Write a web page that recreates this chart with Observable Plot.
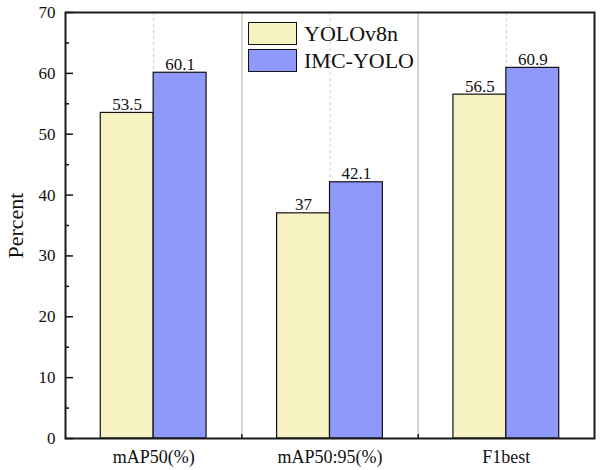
<!DOCTYPE html>
<html>
<head>
<meta charset="utf-8">
<script src="https://cdn.jsdelivr.net/npm/d3@7"></script>
<script src="https://cdn.jsdelivr.net/npm/@observablehq/plot@0.6"></script>
<style>
  html, body { margin: 0; padding: 0; background: #fff; }
  #wrap { position: relative; width: 600px; height: 470px; font-family: "Liberation Serif", "Times New Roman", serif; }
  #legend { position: absolute; left: 248px; top: 22px; font-size: 22px; color: #111; line-height: 23px; }
  #legend .row { display: flex; align-items: center; height: 23px; margin-bottom: 4px; }
  #legend .sw { width: 47px; height: 21px; border: 1px solid #111; margin-right: 7px; }
</style>
</head>
<body>
<div id="wrap"></div>
<script>
const categories = ["mAP50(%)", "mAP50:95(%)", "F1best"];
const seriesNames = ["YOLOv8n", "IMC-YOLO"];
const yolov8n = [53.5, 37, 56.5];
const imcYolo = [60.1, 42.1, 60.9];
const seriesColors = ["#F6F2C2", "#8F99FB"];
const majorTicks = [0, 10, 20, 30, 40, 50, 60, 70];
const minorTicks = [5, 15, 25, 35, 45, 55, 65];

const SERIF = "'Liberation Serif', 'Times New Roman', serif";
const W = 600, H = 470, ML = 65, MR = 6, MT = 12, MB = 32;
const plotW = W - ML - MR, plotH = H - MT - MB;
const barW = 0.3; // fraction of a group per bar

const rows = [];
categories.forEach((c, i) => {
  [yolov8n, imcYolo].forEach((arr, s) => {
    rows.push({cat: c, i, s, series: seriesNames[s], value: arr[i]});
  });
});
const centers = categories.map((c, i) => i + 0.5);
const dividers = d3.range(1, categories.length);

const chart = Plot.plot({
  width: W, height: H,
  marginLeft: ML, marginRight: MR, marginTop: MT, marginBottom: MB,
  style: {fontFamily: SERIF, background: "white", color: "#111"},
  x: {type: "linear", domain: [0, categories.length]},
  y: {domain: [0, 70]},
  color: {domain: seriesNames, range: seriesColors},
  marks: [
    Plot.ruleX(dividers, {x: d => d, stroke: "#c8c8c8", strokeWidth: 1.5}),
    Plot.ruleX(centers, {x: d => d, stroke: "#c8c8c8", strokeWidth: 1, strokeDasharray: "3,3"}),
    Plot.rectY(rows, {
      x1: d => d.i + 0.5 - (d.s === 0 ? barW : 0),
      x2: d => d.i + 0.5 + (d.s === 0 ? 0 : barW),
      y1: 0, y2: "value",
      fill: "series", stroke: "#111", strokeWidth: 1.2
    }),
    Plot.text(rows, {
      x: d => d.i + 0.5 + (d.s === 0 ? -barW / 2 : barW / 2),
      y: "value", text: d => String(d.value),
      lineAnchor: "bottom", dy: -3, fontSize: 17, fill: "#111"
    }),
    Plot.tickY(majorTicks, {y: d => d, insetRight: plotW - 8, stroke: "#111", strokeWidth: 1.5}),
    Plot.tickY(minorTicks, {y: d => d, insetRight: plotW - 4, stroke: "#111", strokeWidth: 1.5}),
    Plot.tickX(dividers, {x: d => d, insetTop: plotH - 4, stroke: "#111", strokeWidth: 1.5}),
    Plot.axisY(majorTicks, {tickSize: 0, tickPadding: 10, fontSize: 17, label: null}),
    Plot.axisX(centers, {tickSize: 0, tickPadding: 12, fontSize: 18, label: null,
      tickFormat: d => categories[Math.floor(d)]}),
    Plot.text(["Percent"], {frameAnchor: "left", textAnchor: "middle", rotate: -90, dx: -50, fontSize: 22, fill: "#111"}),
    Plot.frame({stroke: "#1a1a1a", strokeWidth: 2})
  ]
});

const wrap = document.getElementById("wrap");
wrap.appendChild(chart);

const legend = document.createElement("div");
legend.id = "legend";
seriesNames.forEach((n, k) => {
  const row = document.createElement("div");
  row.className = "row";
  const sw = document.createElement("div");
  sw.className = "sw";
  sw.style.background = seriesColors[k];
  const t = document.createElement("span");
  t.textContent = n;
  row.appendChild(sw);
  row.appendChild(t);
  legend.appendChild(row);
});
wrap.appendChild(legend);
</script>
</body>
</html>
